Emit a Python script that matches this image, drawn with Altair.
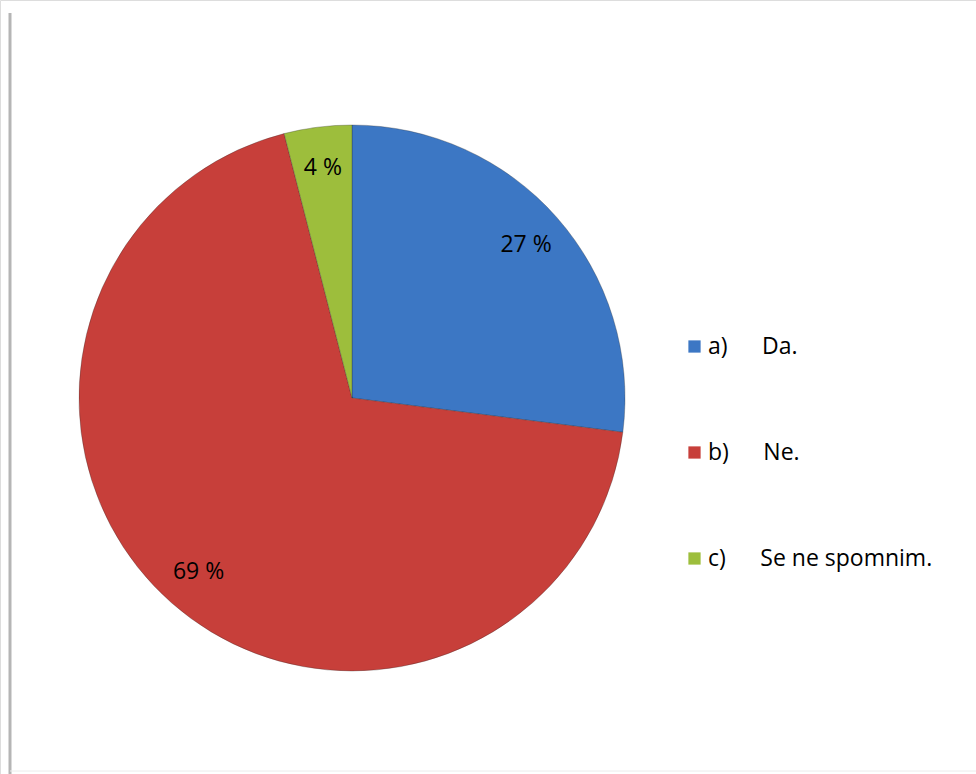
import altair as alt
import pandas as pd

categories = ["a)\u2003\u2002Da.", "b)\u2003\u2002Ne.", "c)\u2003\u2002Se ne spomnim."]
values = [27, 69, 4]
labels = ["27 %", "69 %", "4 %"]
colors = ["#3C77C4", "#C73F3A", "#9DBE3C"]

df = pd.DataFrame({"cat": categories, "val": values, "lab": labels, "order": [0, 1, 2]})

FONT = "Open Sans"

color = alt.Color(
    "cat:N",
    scale=alt.Scale(domain=categories, range=colors),
    sort=categories,
    legend=alt.Legend(
        title=None,
        orient="none",
        legendX=683,
        legendY=335,
        symbolType="square",
        symbolSize=150,
        symbolStrokeWidth=0,
        labelFont=FONT,
        labelFontSize=23,
        labelColor="#000000",
        rowPadding=82,
        labelOffset=2,
        labelLimit=400,
    ),
)

base = alt.Chart(df).encode(
    theta=alt.Theta("val:Q", stack=True),
    order=alt.Order("order:Q"),
)

pie = base.mark_arc(radius=273, stroke="#2b2b2b", strokeWidth=0.6, strokeOpacity=0.5).encode(
    color=color,
    x=alt.value(352),
    y=alt.value(398),
)

text = base.mark_text(radius=232, font=FONT, fontSize=23, color="#000000").encode(
    text="lab:N",
    x=alt.value(352),
    y=alt.value(398),
)

border = alt.Chart(pd.DataFrame({"k": [0]})).mark_rule(color="#b5b5b5", strokeWidth=3).encode(
    x=alt.value(10), y=alt.value(13), y2=alt.value(774)
)
bottom = alt.Chart(pd.DataFrame({"k": [0]})).mark_rule(color="#ececec", strokeWidth=1).encode(
    x=alt.value(10), x2=alt.value(976), y=alt.value(771)
)

chart = (
    alt.layer(border, bottom, pie, text)
    .properties(width=976, height=774, padding=0, autosize=alt.AutoSizeParams(type="none"))
    .configure_view(stroke=None)
    .configure(background="#ffffff")
)

chart.save("out.html", embed_options={"renderer": "svg", "actions": False})
